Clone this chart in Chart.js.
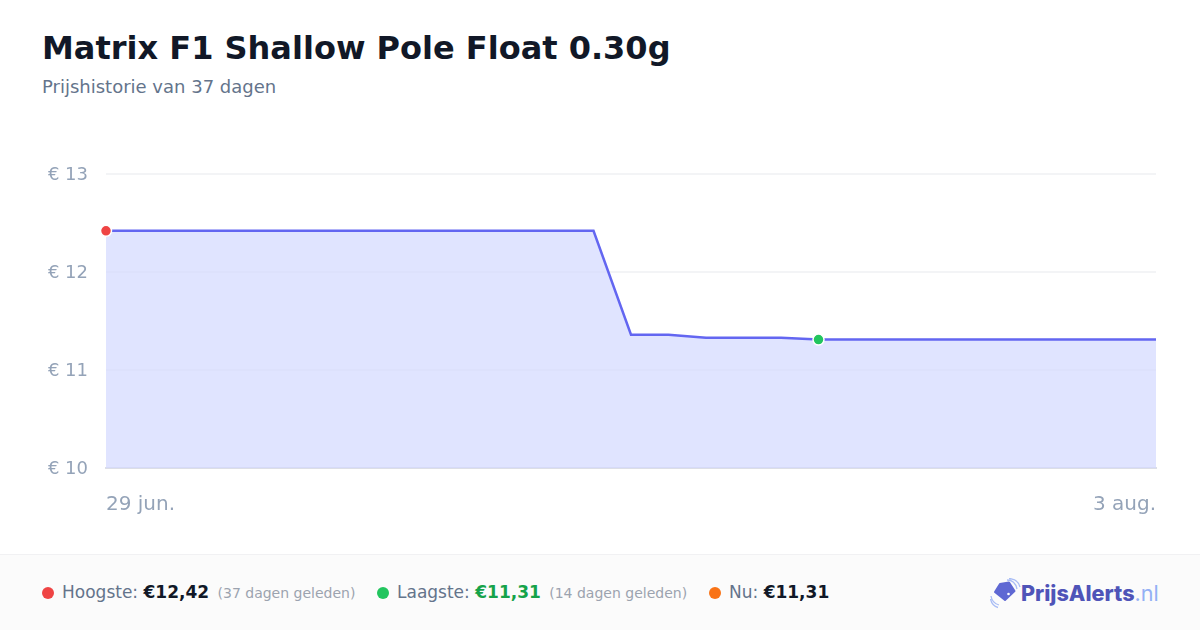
<!DOCTYPE html>
<html lang="nl">
<head>
<meta charset="utf-8">
<title>Matrix F1 Shallow Pole Float 0.30g</title>
<script src="https://cdn.jsdelivr.net/npm/chart.js@4"></script>
<style>
    * { margin: 0; padding: 0; box-sizing: border-box; }
    body { width: 1200px; height: 630px; background: #fff; font-family: "DejaVu Sans", sans-serif; position: relative; overflow: hidden; }
    h1 { position: absolute; left: 42px; top: 28px; font-size: 32px; line-height: 40px; font-weight: 700; color: #111827; white-space: nowrap; }
    .sub { position: absolute; left: 42px; top: 76px; font-size: 18px; line-height: 22px; color: #64748b; }
    .chart-wrap { position: absolute; left: 0; top: 140px; width: 1200px; height: 400px; }
    .footer { position: absolute; left: 0; top: 554px; width: 1200px; height: 76px; background: #fbfbfb; border-top: 1px solid #f1f1f3; }
    .stat { position: absolute; top: 25px; font-size: 17px; line-height: 24px; color: #64748b; white-space: nowrap; }
    .stat i { display: inline-block; width: 12px; height: 12px; border-radius: 50%; margin-right: 8px; vertical-align: -1px; }
    .stat b { color: #111827; font-weight: 700; }
    .stat small { font-size: 14px; color: #9ca3af; margin-left: 3px; }
    .logo { position: absolute; left: 990px; top: 23px; width: 180px; height: 32px; }
    .logo span { position: absolute; left: 31px; top: 0; font-family: Inter, sans-serif; font-size: 21.6px; line-height: 30px; font-weight: 800; color: #4f54b8; white-space: nowrap; }
    .logo span em { font-style: normal; font-weight: 400; color: #93b0f5; }
</style>
</head>
<body>
<h1>Matrix F1 Shallow Pole Float 0.30g</h1>
<div class="sub">Prijshistorie van 37 dagen</div>
<div class="chart-wrap"><canvas id="priceChart"></canvas></div>
<div class="footer">
    <div class="stat" style="left:42px"><i style="background:#ef4444"></i>Hoogste: <b>€12,42</b> <small>(37 dagen geleden)</small></div>
    <div class="stat" style="left:377px"><i style="background:#22c55e"></i>Laagste: <b style="color:#16a34a">€11,31</b> <small>(14 dagen geleden)</small></div>
    <div class="stat" style="left:709px"><i style="background:#f97316"></i>Nu: <b>€11,31</b></div>
    <div class="logo">
        <svg width="32" height="32" viewBox="0 0 32 32" style="position:absolute;left:0;top:0">
            <path d="M10 6 L19 4.5 L24.500 13 L15 22 L5 14 Z" fill="#5f68d3" stroke="#5f68d3" stroke-width="2" stroke-linejoin="round"/>
            <circle cx="18.500" cy="16" r="1.300" fill="#fff"/>
            <path d="M17 2 Q25 2 27 11 M19 0.500 Q28 1 30 9" fill="none" stroke="#a9bdf5" stroke-width="1.300"/>
            <path d="M1 18 Q2 25 9 27 M0.500 21 Q2 28 8 29.500" fill="none" stroke="#a9bdf5" stroke-width="1.300"/>
        </svg>
        <span>PrijsAlerts<em>.nl</em></span>
    </div>
</div>

<script>
// Prijsdata
const dagLabels = ['29 jun.', '', '', '', '', '', '', '', '', '', '', '', '', '', '', '', '', '', '', '', '', '', '', '', '', '', '', '', '3 aug.'];
const prijzen = [12.42, 12.42, 12.42, 12.42, 12.42, 12.42, 12.42, 12.42, 12.42, 12.42, 12.42, 12.42, 12.42, 12.42,
    11.36, 11.36, 11.33, 11.33, 11.33, 11.31, 11.31, 11.31, 11.31, 11.31, 11.31, 11.31, 11.31, 11.31, 11.31];
const yTicks = [10, 11, 12, 13];

const hoogsteIndex = 0;
const laagsteIndex = 19;

const TICK_COLOR = '#94a3b8';

new Chart(document.getElementById('priceChart'), {
    type: 'line',
    data: {
        labels: dagLabels,
        datasets: [{
            data: prijzen,
            borderColor: '#6366f1',
            borderWidth: 2.5,
            backgroundColor: 'rgba(211, 216, 255, 0.7)',
            fill: true,
            tension: 0,
            clip: false,
            pointRadius: ctx => (ctx.dataIndex === hoogsteIndex || ctx.dataIndex === laagsteIndex) ? 5.5 : 0,
            pointBackgroundColor: ctx => ctx.dataIndex === hoogsteIndex ? '#ef4444' : '#22c55e',
            pointBorderColor: '#fff',
            pointBorderWidth: 1.5
        }]
    },
    options: {
        responsive: true,
        maintainAspectRatio: false,
        animation: false,
        layout: { padding: { left: 0, right: 44, top: 34, bottom: 0 } },
        plugins: { legend: { display: false }, tooltip: { enabled: false } },
        scales: {
            x: {
                grid: { display: false },
                border: { color: '#dcdee6', width: 2 },
                afterFit: scale => { scale.height = 72; },
                ticks: {
                    autoSkip: false,
                    maxRotation: 0,
                    align: 'inner',
                    padding: 17,
                    color: TICK_COLOR,
                    font: { family: 'DejaVu Sans', size: 20 }
                }
            },
            y: {
                min: 10,
                max: 13,
                afterFit: scale => { scale.width = 106; },
                afterBuildTicks: scale => { scale.ticks = yTicks.map(v => ({ value: v })); },
                grid: { color: '#f3f4f6', lineWidth: 2, drawTicks: false },
                border: { display: false },
                ticks: {
                    padding: 18,
                    labelOffset: 1,
                    color: TICK_COLOR,
                    font: { family: 'DejaVu Sans', size: 18 },
                    callback: v => '€ ' + v
                }
            }
        }
    }
});
</script>
</body>
</html>
